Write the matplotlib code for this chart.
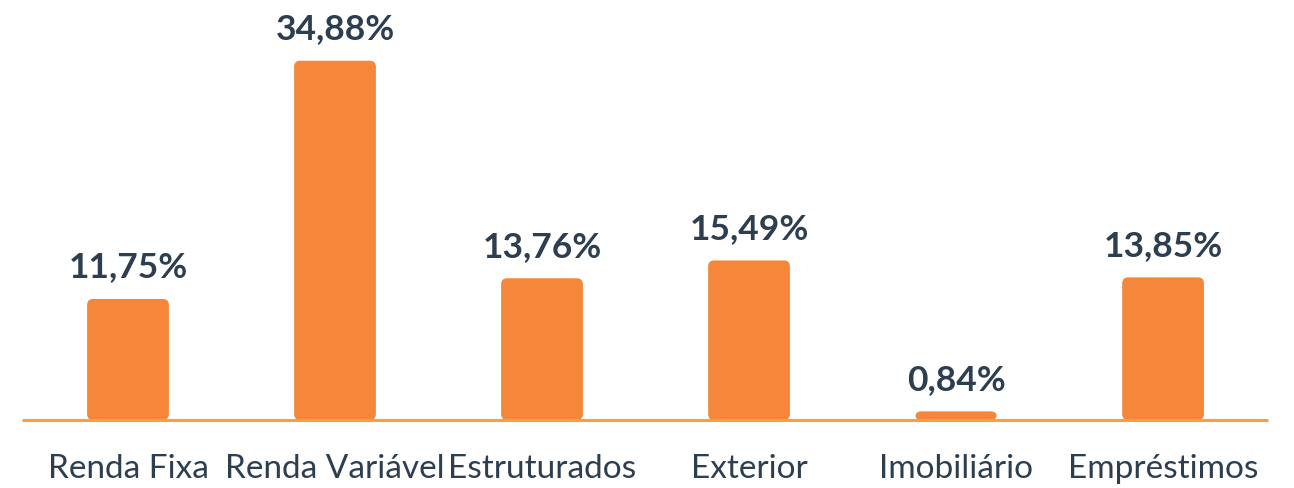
import matplotlib
matplotlib.use("Agg")
import matplotlib.pyplot as plt
from matplotlib.patches import FancyBboxPatch, Rectangle

categorias = ["Renda Fixa", "Renda Variável", "Estruturados", "Exterior", "Imobiliário", "Empréstimos"]
valores = [11.75, 34.88, 13.76, 15.49, 0.84, 13.85]
rotulos = ["11,75%", "34,88%", "13,76%", "15,49%", "0,84%", "13,85%"]

laranja = "#F5863A"
linha = "#F4A043"
texto = "#2C3E50"

plt.rcParams['font.family'] = ['Lato', 'DejaVu Sans']

fig = plt.figure(figsize=(12.94, 4.88), dpi=100)
ax = fig.add_axes([22/1294, 68/488, 1246/1294, 412/488])
ax.set_xlim(-0.512, 5.507)
ax.set_ylim(0, 40)
ax.axis("off")

largura = 0.395
# pixels per data unit, for rounded corners
px_x = 1246 / (5.507 + 0.512)
px_y = 412 / 40
raio = 6 / px_x
aspecto = px_x / px_y
folga = 1.5 / px_x  # keep the square bottom piece inside the rounded box

for i, v in enumerate(valores):
    x0 = i - largura / 2
    caixa = FancyBboxPatch((x0, 0), largura, v,
                           boxstyle="round,pad=0,rounding_size=%f" % raio,
                           mutation_aspect=aspecto, facecolor=laranja,
                           edgecolor="none", zorder=2)
    ax.add_patch(caixa)
    ax.add_patch(Rectangle((x0 + folga, 0), largura - 2 * folga, v / 2,
                           facecolor=laranja, edgecolor="none", zorder=2))
    ax.text(i, v + 1.5, rotulos[i], ha="center", va="bottom",
            fontsize=25.5, fontweight="bold", color=texto)
    ax.text(i, -4.8, categorias[i], ha="center", va="center",
            fontsize=24, color=texto)

ax.plot([-0.512, 5.507], [0, 0], color=linha, lw=2.2, zorder=3,
        solid_capstyle="butt", clip_on=False)

plt.savefig("out.png", dpi=100)
